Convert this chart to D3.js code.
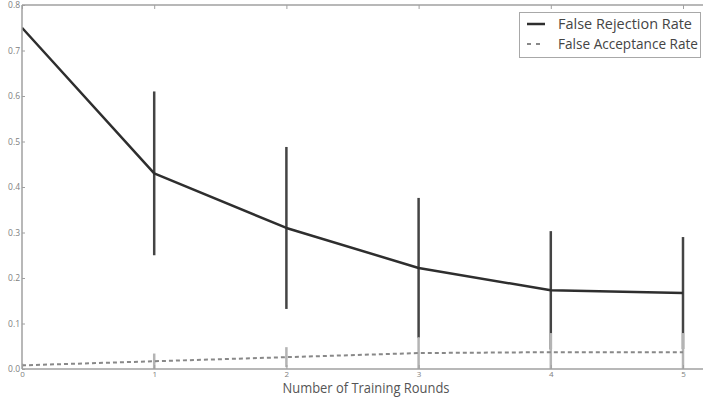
<!DOCTYPE html>
<html>
<head>
<meta charset="utf-8">
<script src="https://cdn.jsdelivr.net/npm/d3@7"></script>
<style>
  html, body { margin: 0; padding: 0; background: #fff; }
  svg { display: block; font-family: "Open Sans", "Noto Sans", sans-serif; }
</style>
</head>
<body>
<svg id="chart" width="703" height="401"></svg>
<script>
// Training rounds and the two error rates with their standard deviations
const rounds = [0, 1, 2, 3, 4, 5];
const frr = [0.75, 0.43, 0.31, 0.222, 0.173, 0.167];
const frrErr = [0, 0.18, 0.178, 0.154, 0.13, 0.123];
const far = [0.008, 0.017, 0.026, 0.035, 0.037, 0.037];
const farErr = [0.004, 0.017, 0.022, 0.035, 0.042, 0.042];
const yTicks = [0.0, 0.1, 0.2, 0.3, 0.4, 0.5, 0.6, 0.7, 0.8];
const legendLabels = ["False Rejection Rate", "False Acceptance Rate"];
const xTitle = "Number of Training Rounds";

const svg = d3.select("#chart");
const plotLeft = 22, plotTop = 5, plotBottom = 369, plotRight = 703;

const x = d3.scaleLinear().domain([0, 5]).range([plotLeft, 683]);
const y = d3.scaleLinear().domain([0, 0.8]).range([plotBottom, plotTop]);

svg.append("defs").append("clipPath").attr("id", "plotClip")
  .append("rect").attr("x", plotLeft).attr("y", plotTop)
  .attr("width", plotRight - plotLeft).attr("height", plotBottom - plotTop);

const plot = svg.append("g").attr("clip-path", "url(#plotClip)");

// Frame: left, top and bottom spines
const axisColor = "#a0a0a0";
svg.append("line").attr("x1", plotLeft).attr("x2", plotLeft).attr("y1", plotTop).attr("y2", plotBottom)
  .attr("stroke", axisColor).attr("stroke-width", 1.5);
svg.append("line").attr("x1", plotLeft).attr("x2", plotRight).attr("y1", plotTop).attr("y2", plotTop)
  .attr("stroke", axisColor).attr("stroke-width", 1.5);
svg.append("line").attr("x1", plotLeft).attr("x2", plotRight).attr("y1", plotBottom).attr("y2", plotBottom)
  .attr("stroke", axisColor).attr("stroke-width", 1.5);

// Y axis (ticks inward)
const yAxis = d3.axisLeft(y).tickValues(yTicks).tickFormat(d3.format(".1f")).tickSizeInner(-3).tickSizeOuter(0).tickPadding(2);
const gy = svg.append("g").attr("transform", `translate(${plotLeft},0)`).call(yAxis);
gy.select(".domain").remove();
gy.selectAll(".tick line").attr("stroke", axisColor).attr("stroke-width", 1);
gy.selectAll(".tick text").attr("fill", "#808080").attr("font-size", 8.5)
  .attr("font-family", "Open Sans, sans-serif");

// X axis (ticks inward on both top and bottom)
const xAxis = d3.axisBottom(x).tickValues(rounds).tickFormat(d3.format("d")).tickSizeInner(-4).tickSizeOuter(0).tickPadding(2);
const gx = svg.append("g").attr("transform", `translate(0,${plotBottom})`).call(xAxis);
gx.select(".domain").remove();
gx.selectAll(".tick line").attr("stroke", axisColor).attr("stroke-width", 1);
gx.selectAll(".tick text").attr("fill", "#808080").attr("font-size", 8)
  .attr("font-family", "Open Sans, sans-serif");

const xTop = d3.axisTop(x).tickValues(rounds).tickFormat("").tickSizeInner(-4).tickSizeOuter(0);
const gxt = svg.append("g").attr("transform", `translate(0,${plotTop})`).call(xTop);
gxt.select(".domain").remove();
gxt.selectAll(".tick line").attr("stroke", axisColor).attr("stroke-width", 1);

svg.append("text").attr("x", 366).attr("y", 393).attr("text-anchor", "middle")
  .attr("fill", "#555").attr("font-size", 14)
  .attr("textLength", 167).attr("lengthAdjust", "spacingAndGlyphs").text(xTitle);

const idx = d3.range(rounds.length);

// False rejection rate: error bars and line
plot.selectAll(".frrErr").data(idx.filter(i => frrErr[i] > 0)).join("line")
  .attr("class", "frrErr")
  .attr("x1", i => x(rounds[i])).attr("x2", i => x(rounds[i]))
  .attr("y1", i => y(frr[i] + frrErr[i])).attr("y2", i => y(frr[i] - frrErr[i]))
  .attr("stroke", "#444").attr("stroke-width", 2.5);

plot.append("path").datum(idx)
  .attr("d", d3.line().x(i => x(rounds[i])).y(i => y(frr[i])))
  .attr("fill", "none").attr("stroke", "#2e2e2e").attr("stroke-width", 2.5)
  .attr("stroke-linejoin", "round");

// False acceptance rate: error bars and dashed line
plot.selectAll(".farErr").data(idx).join("line")
  .attr("class", "farErr")
  .attr("x1", i => x(rounds[i])).attr("x2", i => x(rounds[i]))
  .attr("y1", i => y(far[i] + farErr[i])).attr("y2", i => y(Math.max(0, far[i] - farErr[i])))
  .attr("stroke", "#b4b4b4").attr("stroke-width", 2.5);

plot.append("path").datum(idx)
  .attr("d", d3.line().x(i => x(rounds[i])).y(i => y(far[i])))
  .attr("fill", "none").attr("stroke", "#888").attr("stroke-width", 2)
  .attr("stroke-dasharray", "4,3");

// Legend
const lg = svg.append("g");
lg.append("rect").attr("x", 519.5).attr("y", 12.5).attr("width", 181).attr("height", 45)
  .attr("fill", "#fff").attr("stroke", "#a8a8a8").attr("stroke-width", 1);
lg.append("line").attr("x1", 527).attr("x2", 545).attr("y1", 24).attr("y2", 24)
  .attr("stroke", "#2e2e2e").attr("stroke-width", 2.5);
lg.append("line").attr("x1", 527).attr("x2", 545).attr("y1", 44).attr("y2", 44)
  .attr("stroke", "#888").attr("stroke-width", 2).attr("stroke-dasharray", "4,5");
lg.selectAll(".lt").data(legendLabels).join("text").attr("class", "lt")
  .attr("x", 558).attr("y", (d, i) => 28.5 + i * 20)
  .attr("fill", "#444").attr("font-size", 14)
  .attr("textLength", (d, i) => i === 0 ? 134 : 140).attr("lengthAdjust", "spacingAndGlyphs")
  .text(d => d);
</script>
</body>
</html>
